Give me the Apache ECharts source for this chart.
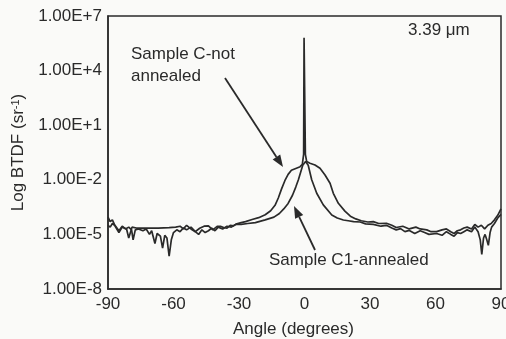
<!DOCTYPE html>
<html>
<head>
<meta charset="utf-8">
<script src="https://cdn.jsdelivr.net/npm/echarts@6/dist/echarts.min.js"></script>
<style>
html,body{margin:0;padding:0;background:#fafaf8;}
#chart{width:506px;height:339px;}
</style>
</head>
<body>
<div id="chart"></div>
<script>
// X ticks (degrees) and Y tick exponents (log10 BTDF)
var xTicks = [-90, -60, -30, 0, 30, 60, 90];
var yTickExponents = [-8, -5, -2, 1, 4, 7];

// Sample C - not annealed: angle (deg) and log10(BTDF)
var notAnnealedAngle = [-90,-89,-88,-86.5,-85,-83.5,-81.5,-80.5,-79,-77,-72,-67,-62,-59,-57,-55.5,-54,-52,-50,-48,-46,-44,-42,-40,-38.5,-37,-35.5,-34,-32.5,-31,-29,-27,-24,-21,-18,-15.5,-13.5,-12,-10.5,-9,-7.5,-6,-4,-2,-1,-0.4,-0.2,0.2,0.4,1,2.5,4.8,7.1,9.4,11.7,13.2,15.5,18.5,21,23.5,26,29,31.5,34,37.5,40,42,45,48,51,53,56,58,60.5,63,65,67,68.5,70,71.5,73,74.5,76.5,78,79.5,81,82.5,84,85.5,87,88.5,90];
var notAnnealedLog = [-4.05,-4.3,-4.2,-4.6,-4.9,-4.6,-4.7,-5.2,-4.6,-4.65,-4.65,-4.65,-4.63,-4.6,-4.55,-4.7,-4.5,-4.7,-4.85,-4.66,-4.55,-4.53,-4.75,-4.56,-4.56,-4.62,-4.66,-4.5,-4.53,-4.42,-4.35,-4.3,-4.18,-4.08,-3.92,-3.7,-3.4,-3.0,-2.5,-2.05,-1.7,-1.48,-1.38,-1.28,-1.15,-0.6,5.8,5.8,-0.6,-1.0,-1.09,-1.19,-1.37,-1.74,-2.19,-2.74,-3.29,-3.72,-4.0,-4.15,-4.25,-4.32,-4.3,-4.4,-4.39,-4.5,-4.62,-4.55,-4.7,-4.6,-4.7,-4.75,-4.85,-4.85,-4.75,-4.7,-4.85,-4.95,-4.8,-4.75,-4.65,-4.6,-4.7,-4.45,-4.6,-4.5,-4.7,-4.5,-4.4,-4.2,-3.95,-3.6];

// Sample C1 - annealed: angle (deg) and log10(BTDF)
var annealedAngle = [-90,-89,-88,-86.5,-85,-83.5,-82,-80.5,-79.2,-78.5,-77.5,-76,-74,-72.5,-71,-70,-68.5,-67.5,-66,-65,-64,-63,-62,-61,-60,-58.5,-57,-55.5,-54,-52,-50,-48.5,-47,-45.5,-44,-42.5,-41,-39.5,-37.5,-35.5,-33.5,-31.5,-29,-26,-22.5,-18,-14,-11.5,-9.5,-7.5,-5.5,-4,-2.8,-1.8,-0.8,0.5,1.7,3.3,5.6,8.6,12.5,15,17.8,20,22.5,25.5,28,31.5,35,37.5,40,42,44,46,48,50.5,53,55,57,60.5,63,65,67,68.5,70,71.5,73,74.5,76.5,78,79.5,80.5,81.2,82,82.7,83.5,84.2,85,85.7,87,88.5,90];
var annealedLog = [-4.5,-4.6,-4.4,-4.55,-4.8,-4.55,-4.7,-4.6,-4.75,-5.3,-4.75,-4.7,-4.8,-4.7,-5.0,-4.8,-5.5,-4.95,-5.1,-5.75,-5.05,-5.2,-6.2,-5.3,-4.9,-4.75,-4.85,-4.65,-4.75,-4.6,-4.85,-5.0,-4.75,-4.9,-4.8,-4.65,-4.8,-4.6,-4.7,-4.55,-4.6,-4.45,-4.45,-4.4,-4.35,-4.2,-4.05,-3.85,-3.6,-3.3,-2.85,-2.4,-2.0,-1.6,-1.2,-1.0,-1.2,-2.0,-2.74,-3.38,-3.93,-4.1,-4.21,-4.25,-4.3,-4.32,-4.42,-4.45,-4.55,-4.5,-4.65,-4.75,-4.68,-4.85,-4.78,-4.95,-4.8,-4.9,-5.0,-4.95,-5.05,-4.85,-5.0,-5.1,-4.9,-4.95,-4.85,-4.75,-4.85,-4.6,-4.85,-5.3,-6.1,-5.2,-5.0,-5.3,-5.6,-4.9,-4.6,-4.4,-4.1,-3.9];

function pairs(xs, ys) {
  var out = [];
  for (var i = 0; i < xs.length; i++) out.push([xs[i], ys[i]]);
  return out;
}

var FONT = '"Liberation Sans", Arial, Helvetica, sans-serif';
var INK = '#2a2a2a';

function arrow(x1, y1, x2, y2) {
  var dx = x2 - x1, dy = y2 - y1;
  var L = Math.sqrt(dx * dx + dy * dy);
  var ux = dx / L, uy = dy / L;
  var hl = 12, hw = 4.5;
  var bx = x2 - ux * hl, by = y2 - uy * hl;
  var px = -uy * hw, py = ux * hw;
  return [
    { type: 'line', shape: { x1: x1, y1: y1, x2: bx, y2: by }, style: { stroke: INK, lineWidth: 1.8 }, z: 100 },
    { type: 'polygon', shape: { points: [[x2, y2], [bx + px, by + py], [bx - px, by - py]] }, style: { fill: INK }, z: 100 }
  ];
}

var chart = echarts.init(document.getElementById('chart'));
var graphics = [
  { type: 'text', left: 408, top: 22, style: { text: '3.39 \u03bcm', font: '17px ' + FONT, fill: INK }, z: 100 },
  { type: 'text', left: 131, top: 43, style: { text: 'Sample C-not\nannealed', font: '17px ' + FONT, fill: INK, lineHeight: 22 }, z: 100 },
  { type: 'text', left: 269, top: 252, style: { text: 'Sample C1-annealed', font: '17px ' + FONT, fill: INK }, z: 100 }
].concat(arrow(225, 78, 283, 167)).concat(arrow(315, 250, 294, 206));

chart.setOption({
  animation: false,
  backgroundColor: '#fafaf8',
  grid: {
    left: 108, right: 5, top: 16, bottom: 50,
    show: true, borderColor: INK, borderWidth: 1.5,
    containLabel: false, outerBoundsMode: 'none'
  },
  xAxis: {
    type: 'value', min: xTicks[0], max: xTicks[xTicks.length - 1], interval: 30,
    axisLine: { show: true, onZero: false, lineStyle: { color: INK, width: 1.5 } },
    axisTick: { show: false },
    splitLine: { show: false },
    axisLabel: { color: INK, fontFamily: FONT, fontSize: 17, margin: 7 },
    name: 'Angle (degrees)', nameLocation: 'middle', nameGap: 32,
    nameTextStyle: { color: INK, fontFamily: FONT, fontSize: 17, padding: [0, 22, 0, 0] }
  },
  yAxis: {
    type: 'value', min: yTickExponents[0], max: yTickExponents[yTickExponents.length - 1],
    axisLine: { show: true, onZero: false, lineStyle: { color: INK, width: 1.5 } },
    axisTick: { show: false, customValues: yTickExponents },
    splitLine: { show: false },
    axisLabel: {
      customValues: yTickExponents,
      color: INK, fontFamily: FONT, fontSize: 17, margin: 6,
      formatter: function (v) { return '1.00E' + (v >= 0 ? '+' : '-') + Math.abs(v); }
    },
    name: '{a|Log BTDF (sr}{b|-1}{a|)}', nameLocation: 'middle', nameGap: 80, nameRotate: 90,
    nameTextStyle: {
      rich: {
        a: { color: INK, fontFamily: FONT, fontSize: 17 },
        b: { color: INK, fontFamily: FONT, fontSize: 11, verticalAlign: 'top', padding: [0, 0, 6, 0] }
      }
    }
  },
  series: [
    {
      name: 'Sample C-not annealed', type: 'line', showSymbol: false, symbol: 'none',
      data: pairs(notAnnealedAngle, notAnnealedLog),
      lineStyle: { color: INK, width: 1.7 }
    },
    {
      name: 'Sample C1-annealed', type: 'line', showSymbol: false, symbol: 'none',
      data: pairs(annealedAngle, annealedLog),
      lineStyle: { color: INK, width: 1.7 }
    }
  ],
  graphic: graphics
});
</script>
</body>
</html>
